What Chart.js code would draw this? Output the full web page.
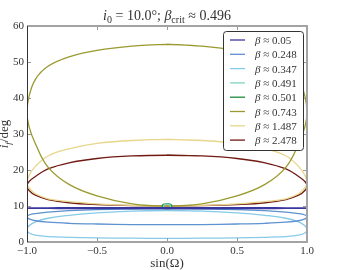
<!DOCTYPE html>
<html lang="en">
<head>
<meta charset="UTF-8">
<title>i_f against sin(Omega)</title>
<script src="https://cdn.jsdelivr.net/npm/chart.js"></script>
<style>
  html, body { margin: 0; padding: 0; background: #fff; }
</style>
</head>
<body>
<canvas id="chart" width="343" height="270"></canvas>
<script>
// sin(Omega) positions, left to right; upper and lower branches share them
const sinOmega = [-1, -0.985, -0.94, -0.85, -0.7, -0.5, -0.25, 0, 0.25, 0.5, 0.7, 0.85, 0.94, 0.985, 1];
// the two near-critical loops are tiny
const sinOmegaSmall = [-0.034, -0.03, -0.015, 0, 0.015, 0.03, 0.034];
const sinOmegaTiny = [-0.026, -0.022, -0.011, 0, 0.011, 0.022, 0.026];

const betaLabels = ['0.05', '0.248', '0.347', '0.491', '0.501', '0.743', '1.487', '2.478'];
const betaColors = ['#3b35a0', '#5e92d0', '#86cbe8', '#80d4c4', '#1d8c3e', '#9a9a2e', '#e8d68c', '#701a12'];

// i_f in degrees
const upper005 = [9.42, 9.46, 9.48, 9.5, 9.52, 9.54, 9.55, 9.56, 9.55, 9.54, 9.52, 9.5, 9.48, 9.46, 9.42];
const lower005 = [9.42, 9.38, 9.35, 9.32, 9.3, 9.28, 9.27, 9.26, 9.27, 9.28, 9.3, 9.32, 9.35, 9.38, 9.42];

const upper0248 = [7.0, 7.5, 7.9, 8.3, 8.7, 9.0, 9.15, 9.2, 9.15, 9.0, 8.7, 8.3, 7.9, 7.5, 7.0];
const lower0248 = [7.0, 6.4, 5.9, 5.5, 5.2, 5.0, 4.85, 4.8, 4.85, 5.0, 5.2, 5.5, 5.9, 6.4, 7.0];

const upper0347 = [3.4, 4.5, 5.6, 6.6, 7.4, 8.1, 8.6, 8.75, 8.6, 8.1, 7.4, 6.6, 5.6, 4.5, 3.4];
const lower0347 = [3.4, 2.5, 1.9, 1.5, 1.3, 1.15, 1.05, 1.0, 1.05, 1.15, 1.3, 1.5, 1.9, 2.5, 3.4];

const upper0491 = [9.9, 10.25, 10.4, 10.45, 10.4, 10.25, 9.9];
const lower0491 = [9.9, 9.55, 9.4, 9.35, 9.4, 9.55, 9.9];

const upper0501 = [9.9, 10.35, 10.55, 10.6, 10.55, 10.35, 9.9];
const lower0501 = [9.9, 9.45, 9.25, 9.2, 9.25, 9.45, 9.9];

const upper0743 = [36.0, 40.5, 45.2, 48.8, 51.4, 53.2, 54.4, 54.9, 54.4, 53.2, 51.4, 48.8, 45.2, 40.5, 36.0];
const lower0743 = [36.0, 32.0, 27.3, 20.8, 16.0, 12.8, 10.6, 10.0, 10.6, 12.8, 16.0, 20.8, 27.3, 32.0, 36.0];

const upper1487 = [16.6, 18.5, 21.0, 23.9, 25.9, 27.4, 28.2, 28.5, 28.2, 27.4, 25.9, 23.9, 21.0, 18.5, 16.6];
const lower1487 = [16.6, 15.0, 13.4, 12.0, 11.2, 10.6, 10.15, 10.0, 10.15, 10.6, 11.2, 12.0, 13.4, 15.0, 16.6];

const upper2478 = [15.6, 16.8, 18.2, 20.3, 22.0, 23.2, 23.9, 24.1, 23.9, 23.2, 22.0, 20.3, 18.2, 16.8, 15.6];
const lower2478 = [15.6, 14.3, 13.0, 11.8, 10.9, 10.4, 10.1, 10.0, 10.1, 10.4, 10.9, 11.8, 13.0, 14.3, 15.6];

const xTicks = [-1, -0.5, 0, 0.5, 1];
const yTicks = [0, 10, 20, 30, 40, 50, 60];

// walk round the loop: upper branch from the middle to the right,
// lower branch back to the left, upper branch up to the middle again
function loop(xs, up, lo) {
    const n = xs.length, mid = Math.floor(n / 2);
    const pts = [];
    for (let i = mid; i < n; i++) pts.push({x: xs[i], y: up[i]});
    for (let i = n - 2; i >= 1; i--) pts.push({x: xs[i], y: lo[i]});
    for (let i = 0; i <= mid + 1; i++) pts.push({x: xs[i], y: up[i]});
    return pts;
}

const loops = [
    loop(sinOmega, upper005, lower005),
    loop(sinOmega, upper0248, lower0248),
    loop(sinOmega, upper0347, lower0347),
    loop(sinOmegaTiny, upper0491, lower0491),
    loop(sinOmegaSmall, upper0501, lower0501),
    loop(sinOmega, upper0743, lower0743),
    loop(sinOmega, upper1487, lower1487),
    loop(sinOmega, upper2478, lower2478)
];

const SERIF = '"Liberation Serif", "DejaVu Serif", serif';

// draws a run of [text, style] pieces; style: 'r' roman, 'i' italic, 's' subscript roman, 'si' subscript italic
function pieces(ctx, parts, size) {
    const font = p => (p[1].includes('i') ? 'italic ' : '') + (p[1][0] === 's' ? Math.round(size * 0.72) : size) + 'px ' + SERIF;
    let w = 0;
    parts.forEach(p => { ctx.font = font(p); w += ctx.measureText(p[0]).width; });
    return {
        width: w,
        draw(x, y) {
            parts.forEach(p => {
                ctx.font = font(p);
                const dy = p[1][0] === 's' ? size * 0.22 : 0;
                ctx.fillText(p[0], x, y + dy);
                x += ctx.measureText(p[0]).width;
            });
        }
    };
}

const decor = {
    id: 'decor',
    afterDatasetsDraw(chart) {
        const {ctx, chartArea: a, scales: {x, y}} = chart;
        ctx.save();
        // inward ticks on all four sides
        ctx.strokeStyle = '#999';
        ctx.lineWidth = 1;
        ctx.beginPath();
        xTicks.forEach(v => {
            const px = Math.round(x.getPixelForValue(v)) + 0.5;
            ctx.moveTo(px, a.bottom); ctx.lineTo(px, a.bottom - 4);
            ctx.moveTo(px, a.top); ctx.lineTo(px, a.top + 4);
        });
        yTicks.forEach(v => {
            const py = Math.round(y.getPixelForValue(v)) + 0.5;
            ctx.moveTo(a.left, py); ctx.lineTo(a.left + 4, py);
            ctx.moveTo(a.right, py); ctx.lineTo(a.right - 4, py);
        });
        ctx.stroke();
        // spines
        ctx.strokeStyle = '#a3a3a3';
        ctx.lineWidth = 2;
        ctx.beginPath();
        ctx.moveTo(a.left, a.top); ctx.lineTo(a.right, a.top);
        ctx.lineTo(a.right, a.bottom); ctx.lineTo(a.left, a.bottom);
        ctx.stroke();
        ctx.strokeStyle = '#333';
        ctx.lineWidth = 1;
        ctx.beginPath();
        ctx.moveTo(a.left + 0.5, a.top); ctx.lineTo(a.left + 0.5, a.bottom);
        ctx.stroke();
        ctx.restore();
    },
    afterDraw(chart) {
        const {ctx, chartArea: a} = chart;
        ctx.save();
        ctx.fillStyle = '#333';
        ctx.textBaseline = 'alphabetic';
        const cx = (a.left + a.right) / 2;

        const title = pieces(ctx, [['i', 'i'], ['0', 's'], [' = 10.0°; ', 'r'], ['β', 'i'], ['crit', 's'], [' ≈ 0.496', 'r']], 14);
        title.draw(cx - title.width / 2, 20);

        const xl = pieces(ctx, [['sin(Ω)', 'r']], 13);
        xl.draw(cx - xl.width / 2, 267);

        ctx.save();
        ctx.translate(8, (a.top + a.bottom) / 2);
        ctx.rotate(-Math.PI / 2);
        const yl = pieces(ctx, [['i', 'i'], ['f', 'si'], ['/deg', 'r']], 13);
        yl.draw(-yl.width / 2, 0);
        ctx.restore();

        // legend box
        const bx = 223.5, by = 31.5, bw = 80, bh = 119, r = 3;
        ctx.beginPath();
        ctx.moveTo(bx + r, by);
        ctx.arcTo(bx + bw, by, bx + bw, by + bh, r);
        ctx.arcTo(bx + bw, by + bh, bx, by + bh, r);
        ctx.arcTo(bx, by + bh, bx, by, r);
        ctx.arcTo(bx, by, bx + bw, by, r);
        ctx.closePath();
        ctx.fillStyle = '#fff';
        ctx.fill();
        ctx.strokeStyle = '#333';
        ctx.lineWidth = 1;
        ctx.stroke();
        betaLabels.forEach((lab, k) => {
            const ly = 40 + k * 14.3;
            ctx.strokeStyle = betaColors[k];
            ctx.lineWidth = 1.3;
            ctx.beginPath();
            ctx.moveTo(230, ly); ctx.lineTo(245, ly);
            ctx.stroke();
            ctx.fillStyle = '#333';
            const t = pieces(ctx, [['β', 'i'], [' ≈ ' + lab, 'r']], 11);
            t.draw(255, ly + 4);
        });
        ctx.restore();
    }
};

new Chart(document.getElementById('chart'), {
    type: 'scatter',
    data: {
        datasets: loops.map((pts, k) => ({
            label: 'β ≈ ' + betaLabels[k],
            data: pts,
            showLine: true,
            borderColor: betaColors[k],
            borderWidth: 1.3,
            pointRadius: 0,
            tension: 0.4,
            fill: false
        }))
    },
    options: {
        responsive: false,
        animation: false,
        devicePixelRatio: 1,
        layout: { padding: { left: 0, right: 36, top: 26, bottom: 0 } },
        plugins: { legend: { display: false }, tooltip: { enabled: false } },
        scales: {
            x: {
                type: 'linear',
                min: -1, max: 1,
                afterBuildTicks: s => { s.ticks = xTicks.map(v => ({value: v})); },
                ticks: {
                    callback: v => (v < 0 ? '\u2212' : '') + Math.abs(v).toFixed(1),
                    font: { family: SERIF, size: 11 },
                    color: '#333',
                    padding: 3,
                    maxRotation: 0
                },
                grid: { display: false, drawTicks: false },
                border: { display: false },
                afterFit: s => { s.height = 28; }
            },
            y: {
                min: 0, max: 60,
                afterBuildTicks: s => { s.ticks = yTicks.map(v => ({value: v})); },
                ticks: {
                    callback: v => String(v),
                    font: { family: SERIF, size: 11 },
                    color: '#333',
                    padding: 3
                },
                grid: { display: false, drawTicks: false },
                border: { display: false },
                afterFit: s => { s.width = 27; }
            }
        }
    },
    plugins: [decor]
});
</script>
</body>
</html>
